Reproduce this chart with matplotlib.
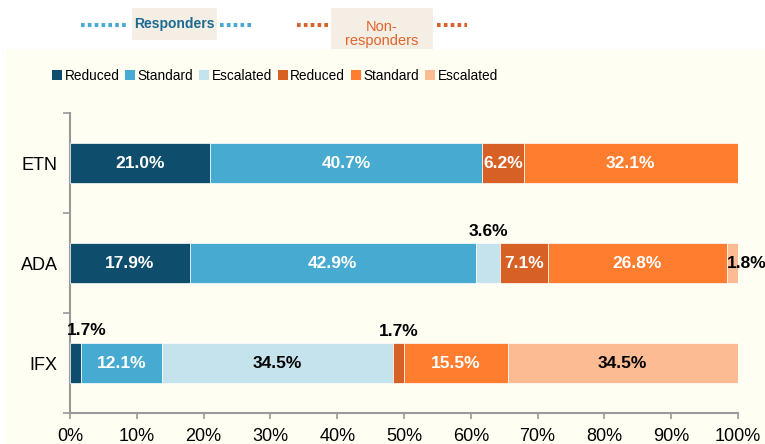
import matplotlib
matplotlib.use("Agg")
import matplotlib.pyplot as plt
from matplotlib.patches import Rectangle, Patch
from matplotlib.lines import Line2D
import numpy as np

plt.rcParams['font.family'] = ['Liberation Sans', 'DejaVu Sans']

# ---------------- data ----------------
categories = ["ETN", "ADA", "IFX"]
series_names = ["Reduced", "Standard", "Escalated", "Reduced", "Standard", "Escalated"]
resp_reduced = [21.0, 17.9, 1.7]
resp_standard = [40.7, 42.9, 12.1]
resp_escalated = [0.0, 3.6, 34.5]
non_reduced = [6.2, 7.1, 1.7]
non_standard = [32.1, 26.8, 15.5]
non_escalated = [0.0, 1.8, 34.5]
x_ticks = [0, 10, 20, 30, 40, 50, 60, 70, 80, 90, 100]
x_tick_labels = ["0%", "10%", "20%", "30%", "40%", "50%", "60%", "70%", "80%", "90%", "100%"]

series = [resp_reduced, resp_standard, resp_escalated, non_reduced, non_standard, non_escalated]
colors = ["#0E4D6B", "#47AAD0", "#C5E3EC", "#D76125", "#FF7D2F", "#FDBB94"]
text_colors = ["white", "white", "black", "white", "white", "black"]

ivory = "#FEFEF2"
W, H = 765, 444

fig = plt.figure(figsize=(W / 100, H / 100), dpi=100)
fig.patch.set_facecolor("white")

def fx(px):
    return px / W

def fy(py):
    return 1 - py / H

# ivory panel
fig.patches.append(Rectangle((fx(6), 0), 1, fy(49), transform=fig.transFigure,
                             facecolor=ivory, edgecolor="none", zorder=-5))

# headers
box_color = "#F4EEE4"
fig.patches.append(Rectangle((fx(132), fy(40)), fx(217) - fx(132), fy(8) - fy(40),
                             transform=fig.transFigure, facecolor=box_color, edgecolor="none", zorder=-4))
fig.patches.append(Rectangle((fx(331), fy(49)), fx(433) - fx(331), fy(8) - fy(49),
                             transform=fig.transFigure, facecolor=box_color, edgecolor="none", zorder=-4))
fig.text(fx(174.5), fy(24), "Responders", ha="center", va="center", fontsize=10,
         fontweight="bold", color="#1C6A92")
fig.text(fx(382), fy(34), "Non-\nresponders", ha="center", va="center", fontsize=10.5,
         color="#E0652A", linespacing=1.0)

blue_dot = "#47A9CF"
orange_dot = "#D9612A"
for (x0, x1, c) in [(81, 128, blue_dot), (220, 253, blue_dot), (297, 330, orange_dot), (437, 467, orange_dot)]:
    fig.add_artist(Line2D([fx(x0), fx(x1)], [fy(24.7), fy(24.7)], transform=fig.transFigure,
                          color=c, lw=2.9, linestyle=(0, (0.9, 0.8)), solid_capstyle="butt",
                          dash_capstyle="butt"))

# axes
ax = fig.add_axes([fx(70), fy(413), fx(738) - fx(70), fy(113) - fy(413)])
ax.set_facecolor("none")
ax.set_xlim(0, 100)
ax.set_ylim(0, 3)

ypos = np.array([2.5, 1.5, 0.5])
bar_h = 0.4
left = np.zeros(len(categories))
for i, vals in enumerate(series):
    vals = np.array(vals)
    ax.barh(ypos, vals, left=left, height=bar_h, color=colors[i], edgecolor="white",
            linewidth=0.5, zorder=3)
    for j, v in enumerate(vals):
        if v <= 0:
            continue
        cx = left[j] + v / 2
        lab = f"{v:.1f}%"
        kw = dict(fontsize=12.5, fontweight="bold", zorder=5)
        if v >= 5:
            ax.text(cx, ypos[j], lab, ha="center", va="center", color=text_colors[i], **kw)
        else:
            if i == 5:
                ax.annotate(lab, (left[j], ypos[j]), xytext=(0, 0), textcoords="offset points",
                            ha="left", va="center", color="black", annotation_clip=False, **kw)
            elif left[j] == 0:
                ax.annotate(lab, (left[j], ypos[j] + bar_h / 2), xytext=(-2, 9), textcoords="offset points",
                            ha="left", va="center", color="black", annotation_clip=False, **kw)
            else:
                ax.annotate(lab, (cx, ypos[j] + bar_h / 2), xytext=(0, 8), textcoords="offset points",
                            ha="center", va="center", color="black", annotation_clip=False, **kw)
    left = left + vals

spine_c = "#999999"
for s in ["top", "right"]:
    ax.spines[s].set_visible(False)
for s in ["left", "bottom"]:
    ax.spines[s].set_color(spine_c)
    ax.spines[s].set_linewidth(1.5)

ax.set_xticks(x_ticks)
ax.set_xticklabels(x_tick_labels, fontsize=13)
ax.tick_params(axis="x", length=4, width=1.2, color=spine_c, pad=7)

ax.set_yticks([0, 1, 2, 3])
ax.set_yticklabels([])
ax.tick_params(axis="y", which="major", length=5, width=1.2, color=spine_c)
ax.set_yticks(ypos, minor=True)
ax.set_yticklabels(categories, minor=True, fontsize=13)
ax.tick_params(axis="y", which="minor", length=0, pad=9)

# legend
handles = [Patch(facecolor=c, edgecolor="none") for c in colors]
fig.legend(handles, series_names, loc="center", bbox_to_anchor=(fx(275), fy(76)), ncol=6,
           frameon=False, fontsize=9.8, handlelength=0.7, handleheight=0.7,
           handletextpad=0.2, columnspacing=0.45, borderaxespad=0)

fig.savefig("out.png", dpi=100, facecolor=fig.get_facecolor())
